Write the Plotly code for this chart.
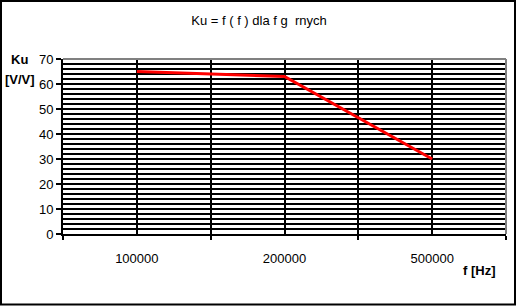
import plotly.graph_objects as go

categories = ["100000", "200000", "500000"]
ku_values = [65, 63, 30]
y_ticks = [0, 10, 20, 30, 40, 50, 60, 70]

W, H = 518, 307
L, R, T, B = 63, 12, 59, 73
pw, ph = W - L - R, H - T - B

def px(x):
    return (x - L) / pw

def py(y):
    return (H - B - y) / ph

FONT = "Liberation Sans, Arial, sans-serif"

fig = go.Figure()
fig.add_trace(go.Scatter(
    x=list(range(len(categories))), y=ku_values, mode="lines",
    line=dict(color="#ff0000", width=3), showlegend=False,
))

fig.update_layout(
    width=W, height=H, margin=dict(l=L, r=R, t=T, b=B),
    paper_bgcolor="white", plot_bgcolor="white",
    font=dict(family=FONT, size=13, color="black"),
    title=dict(text="Ku = f ( f ) dla f g  rnych", x=0.5, xanchor="center",
               y=1 - 20 / H, yanchor="middle", yref="container",
               font=dict(family=FONT, size=13, color="black")),
    xaxis=dict(
        range=[-0.5, len(categories) - 0.5],
        tickvals=list(range(len(categories))), ticktext=categories,
        ticks="", showgrid=True, gridcolor="black", gridwidth=2,
        showline=True, linecolor="black", linewidth=2,
        zeroline=False, ticklabelstandoff=11,
        tickfont=dict(family=FONT, size=13),
        minor=dict(tick0=-0.5, dtick=1, ticks="outside", ticklen=4,
                   tickcolor="black", tickwidth=2, showgrid=True,
                   gridcolor="black", gridwidth=2),
    ),
    yaxis=dict(
        range=[0, 70], tickvals=y_ticks, ticks="outside", ticklen=5,
        tickcolor="black", tickwidth=2,
        showgrid=True, gridcolor="black", gridwidth=2,
        showline=True, linecolor="black", linewidth=2, zeroline=False,
        tickfont=dict(family=FONT, size=13),
        minor=dict(dtick=2, showgrid=True, gridcolor="black", gridwidth=2),
    ),
    shapes=[
        dict(type="line", xref="x domain", yref="y domain", x0=0, x1=1, y0=1, y1=1,
             line=dict(color="#808080", width=2), layer="above"),
        dict(type="line", xref="x domain", yref="y domain", x0=1, x1=1, y0=0, y1=1,
             line=dict(color="#808080", width=2), layer="above"),
        dict(type="rect", xref="paper", yref="paper",
             x0=px(1), x1=px(515), y0=py(1), y1=py(304.5),
             line=dict(color="black", width=2), layer="above"),
    ],
    annotations=[
        dict(text="<b>Ku</b>", xref="paper", yref="paper", x=px(19), y=py(60),
             xanchor="center", yanchor="middle", showarrow=False,
             font=dict(family=FONT, size=13)),
        dict(text="<b>[V/V]</b>", xref="paper", yref="paper", x=px(20), y=py(79),
             xanchor="center", yanchor="middle", showarrow=False,
             font=dict(family=FONT, size=13)),
        dict(text="<b>f [Hz]</b>", xref="paper", yref="paper", x=px(498), y=py(270),
             xanchor="right", yanchor="middle", showarrow=False,
             font=dict(family=FONT, size=13)),
    ],
)

fig.write_html("out.html")
